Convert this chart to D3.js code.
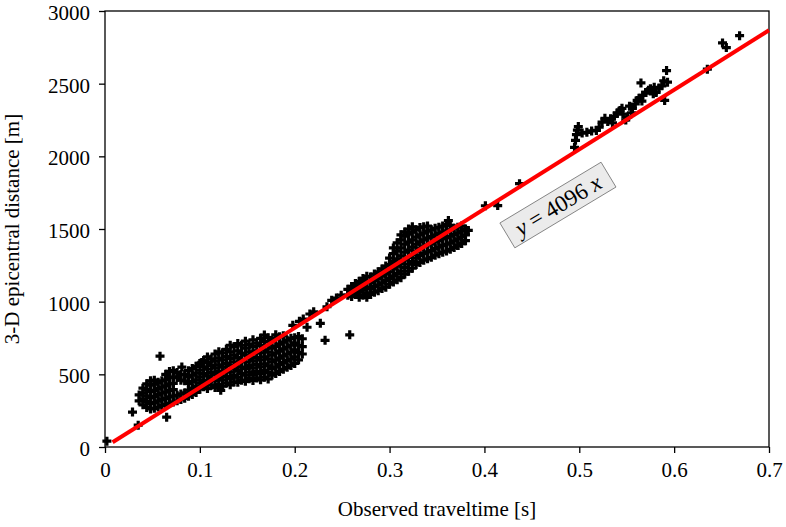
<!DOCTYPE html>
<html>
<head>
<meta charset="utf-8">
<script src="https://cdn.jsdelivr.net/npm/d3@7"></script>
<style>
  body { margin: 0; background: #fff; }
  svg text { font-family: "Liberation Serif", "Times New Roman", serif; }
</style>
</head>
<body>
<div id="chart"></div>
<script>
// observed traveltime [s] -> 3-D epicentral distance [m]
// dense groups are written as columns: [traveltime, [distances...]]
const nearSource = [
  [0.036, [318, 358]],
  [0.040, [290, 330, 372, 405]],
  [0.044, [272, 312, 352, 395, 435]],
  [0.048, [262, 300, 340, 382, 425, 455]],
  [0.052, [266, 305, 348, 390, 432, 460]],
  [0.056, [275, 318, 360, 402, 445]],
  [0.060, [285, 328, 370, 412, 455]],
  [0.064, [292, 335, 378, 420, 462, 500]],
  [0.068, [300, 345, 390, 435, 478, 520]],
  [0.072, [310, 352, 395, 438, 482, 525]],
  [0.076, [318, 356, 478, 512]],
  [0.080, [326, 365, 460, 498]],
  [0.084, [335, 372, 455, 500]],
  [0.088, [350, 392, 438, 482, 525]],
  [0.092, [362, 405, 450, 495, 540]],
  [0.096, [375, 418, 462, 508, 555]]
];

const shortPaths = [
  [0.100, [398, 440, 482, 528, 575]],
  [0.104, [415, 458, 505, 552, 596]],
  [0.108, [402, 448, 490, 535, 580, 620]],
  [0.112, [425, 470, 512, 560, 605]],
  [0.116, [410, 455, 500, 545, 590, 640]],
  [0.120, [430, 475, 520, 566, 612, 655]],
  [0.124, [418, 462, 508, 552, 600, 648]],
  [0.128, [440, 485, 530, 575, 622, 672]],
  [0.132, [428, 470, 515, 560, 608, 655, 700]],
  [0.136, [448, 492, 538, 585, 632, 690]],
  [0.140, [445, 480, 525, 570, 615, 662, 712]],
  [0.144, [460, 505, 550, 598, 645, 700]],
  [0.148, [452, 495, 540, 585, 632, 680, 728]],
  [0.152, [470, 515, 562, 608, 655, 705]],
  [0.156, [458, 500, 545, 592, 640, 690, 738]],
  [0.160, [475, 520, 568, 615, 662, 715]],
  [0.164, [462, 505, 552, 600, 648, 698, 748]],
  [0.168, [480, 525, 572, 620, 668, 725, 770]],
  [0.172, [468, 512, 558, 605, 652, 700, 752]],
  [0.176, [495, 540, 585, 632, 680, 735]],
  [0.180, [505, 550, 598, 645, 692, 748, 772]],
  [0.184, [520, 568, 612, 660, 708, 758]],
  [0.188, [535, 580, 628, 675, 722, 765]],
  [0.192, [548, 595, 640, 688, 735]],
  [0.196, [560, 605, 652, 700, 748]],
  [0.200, [575, 620, 668, 715, 752]],
  [0.204, [600, 650, 700, 760]],
  [0.208, [640, 690, 745]]
];

const midPaths = [
  [0.256, [1045, 1085]],
  [0.260, [1035, 1070, 1105]],
  [0.264, [1050, 1090, 1125]],
  [0.268, [1030, 1068, 1108, 1140]],
  [0.272, [1045, 1085, 1125, 1160]],
  [0.276, [1030, 1060, 1100, 1140, 1175]],
  [0.280, [1050, 1090, 1130, 1170]],
  [0.284, [1065, 1105, 1145, 1190]],
  [0.288, [1075, 1115, 1160, 1205]],
  [0.292, [1090, 1130, 1175, 1225]],
  [0.296, [1100, 1145, 1190, 1245]],
  [0.300, [1120, 1160, 1205, 1255, 1300]],
  [0.304, [1135, 1178, 1225, 1275, 1330, 1370]],
  [0.308, [1150, 1195, 1245, 1295, 1350, 1405]],
  [0.312, [1165, 1210, 1260, 1315, 1370, 1425, 1460]],
  [0.316, [1190, 1235, 1285, 1340, 1395, 1450, 1480]],
  [0.320, [1210, 1258, 1305, 1355, 1410, 1465, 1500]],
  [0.324, [1230, 1275, 1325, 1375, 1425, 1478, 1515]],
  [0.328, [1255, 1300, 1348, 1395, 1445, 1495]],
  [0.332, [1270, 1318, 1365, 1412, 1460, 1510]],
  [0.336, [1285, 1330, 1378, 1425, 1472, 1515]],
  [0.340, [1295, 1342, 1390, 1438, 1485, 1520]],
  [0.344, [1305, 1352, 1400, 1448, 1495]],
  [0.348, [1320, 1365, 1412, 1460, 1505]],
  [0.352, [1330, 1375, 1420, 1468, 1512]],
  [0.356, [1340, 1385, 1432, 1478, 1520]],
  [0.360, [1348, 1395, 1440, 1488, 1530]],
  [0.364, [1360, 1405, 1450, 1495, 1525]],
  [0.368, [1372, 1418, 1462, 1505]],
  [0.372, [1386, 1430, 1472, 1512]],
  [0.376, [1400, 1445, 1485, 1520]],
  [0.380, [1420, 1460, 1500]]
];

const farPaths = [
  [0.495, 2062], [0.496, 2110], [0.497, 2150], [0.498, 2180], [0.499, 2205],
  [0.503, 2160], [0.508, 2165], [0.513, 2175], [0.518, 2178], [0.521, 2200],
  [0.524, 2235], [0.527, 2262], [0.530, 2240], [0.533, 2258], [0.535, 2230],
  [0.537, 2275], [0.540, 2300], [0.543, 2315], [0.545, 2330], [0.546, 2290],
  [0.549, 2250], [0.551, 2270], [0.553, 2345], [0.555, 2300], [0.556, 2330],
  [0.559, 2360], [0.561, 2385], [0.563, 2400], [0.565, 2505], [0.566, 2380],
  [0.567, 2420], [0.570, 2440], [0.573, 2455], [0.575, 2465], [0.578, 2430],
  [0.579, 2475], [0.581, 2440], [0.584, 2470], [0.587, 2485], [0.589, 2520],
  [0.590, 2385], [0.592, 2590], [0.593, 2510]
];

const scattered = [
  [0.002, 40], [0.029, 240], [0.035, 150], [0.058, 625], [0.065, 205],
  [0.081, 550], [0.102, 582], [0.122, 390],
  [0.198, 837], [0.205, 865], [0.209, 880], [0.213, 824], [0.216, 915],
  [0.220, 930], [0.227, 851], [0.232, 734], [0.234, 965], [0.239, 1009],
  [0.244, 1025], [0.249, 1045], [0.258, 772],
  [0.362, 1558], [0.383, 1490], [0.372, 1386],
  [0.401, 1660], [0.414, 1661], [0.437, 1812],
  [0.635, 2600], [0.651, 2780], [0.655, 2748], [0.669, 2830]
];

const xTicks = [0, 0.1, 0.2, 0.3, 0.4, 0.5, 0.6, 0.7];
const yTicks = [0, 500, 1000, 1500, 2000, 2500, 3000];
const fitSlope = 4096;
const fitRange = [0.008, 0.7];

const serif = '"Liberation Serif", "Times New Roman", serif';

// flatten the column groups into [t, d] pairs
const columns = d => d.flatMap(([t, ys]) => ys.map(y => [t, y]));
const points = [].concat(
  columns(nearSource), columns(shortPaths), columns(midPaths),
  farPaths, scattered
);

// set the dimensions and margins of the graph
const width = 786;
const height = 527;
const margin = {top: 11, right: 17, bottom: 80, left: 105};
const innerW = width - margin.left - margin.right;
const innerH = height - margin.top - margin.bottom;

const svg = d3.select("#chart")
  .append("svg")
    .attr("width", width)
    .attr("height", height)
    .attr("font-family", serif)
  .append("g")
    .attr("transform", `translate(${margin.left},${margin.top})`);

const x = d3.scaleLinear().domain([0, 0.7]).range([0, innerW]);
const y = d3.scaleLinear().domain([0, 3000]).range([innerH, 0]);

// axes
const xAxis = svg.append("g")
  .attr("transform", `translate(0,${innerH})`)
  .call(d3.axisBottom(x).tickValues(xTicks).tickSize(6).tickPadding(9)
    .tickFormat(d => d === 0 ? "0" : d3.format(".1f")(d)));

const yAxis = svg.append("g")
  .call(d3.axisLeft(y).tickValues(yTicks).tickSize(6).tickPadding(9)
    .tickFormat(d3.format("d")));

[xAxis, yAxis].forEach(a => {
  a.attr("font-family", serif).attr("font-size", 21);
  a.select(".domain").remove();
  a.selectAll("line").attr("stroke", "#000").attr("stroke-width", 1.3);
  a.selectAll("text").attr("fill", "#000");
});
yAxis.selectAll("text").attr("dy", "0.4em");

// frame
svg.append("rect")
  .attr("width", innerW)
  .attr("height", innerH)
  .attr("fill", "none")
  .attr("stroke", "#000")
  .attr("stroke-width", 1.3);

// points
svg.append("g")
  .selectAll("path")
  .data(points)
  .enter()
  .append("path")
    .attr("transform", d => `translate(${x(d[0])},${y(d[1])})`)
    .attr("d", "M-4.5,0H4.5M0,-4.5V4.5")
    .attr("stroke", "#000")
    .attr("stroke-width", 3.2)
    .attr("fill", "none");

// fitted line
svg.append("line")
  .attr("x1", x(fitRange[0]))
  .attr("y1", y(fitSlope * fitRange[0]))
  .attr("x2", x(fitRange[1]))
  .attr("y2", y(fitSlope * fitRange[1]))
  .attr("stroke", "#ff0000")
  .attr("stroke-width", 4);

// label of the fit
const label = svg.append("g")
  .attr("transform", `translate(${x(0.4775)},${y(1665)}) rotate(-31)`);

label.append("rect")
  .attr("x", -59)
  .attr("y", -14.5)
  .attr("width", 118)
  .attr("height", 29)
  .attr("fill", "#ebebeb")
  .attr("stroke", "#777")
  .attr("stroke-width", 0.8);

const eq = label.append("text")
  .attr("text-anchor", "middle")
  .attr("y", 8)
  .attr("font-family", serif)
  .attr("font-size", 23)
  .attr("fill", "#000");
eq.append("tspan").attr("font-style", "italic").text("y");
eq.append("tspan").text(" = " + fitSlope + " ");
eq.append("tspan").attr("font-style", "italic").text("x");

// axis titles
svg.append("text")
  .attr("x", innerW / 2)
  .attr("y", innerH + 69)
  .attr("text-anchor", "middle")
  .attr("font-family", serif)
  .attr("font-size", 21)
  .text("Observed traveltime [s]");

svg.append("text")
  .attr("transform", "rotate(-90)")
  .attr("x", -innerH / 2)
  .attr("y", -86)
  .attr("text-anchor", "middle")
  .attr("font-family", serif)
  .attr("font-size", 21)
  .text("3-D epicentral distance [m]");
</script>
</body>
</html>
